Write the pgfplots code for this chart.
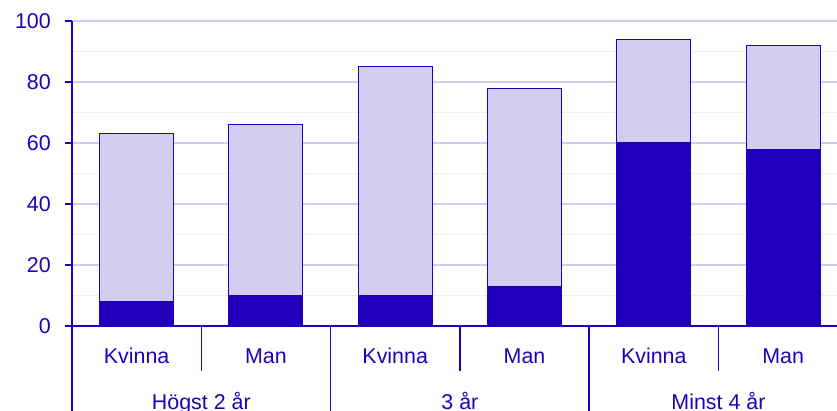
\documentclass[border=0pt]{standalone}
\usepackage{pgfplots}
\pgfplotsset{compat=1.18}
\usepackage{fontspec}
\setmainfont{Liberation Sans}
\definecolor{dk}{RGB}{34,0,187}
\definecolor{lt}{RGB}{210,206,240}
\definecolor{mg}{RGB}{238,238,243}
\begin{document}
\begin{tikzpicture}
\useasboundingbox (0,0) rectangle (837bp,411bp);
\begin{axis}[
  at={(72bp,85bp)}, anchor=south west,
  scale only axis, width=765bp, height=305bp,
  xmin=-0.5, xmax=5.417, ymin=0, ymax=100,
  axis x line=bottom, axis y line=left,
  axis line style={dk, line width=1.5pt, -},
  xtick=\empty,
  ytick={0,20,40,60,80,100},
  minor ytick={10,30,50,70,90},
  ymajorgrids, yminorgrids,
  major grid style={lt, line width=1.2pt},
  minor grid style={mg, line width=1.2pt},
  tick align=outside, major tick length=7bp, minor tick length=0pt,
  tick style={dk, line width=1.5pt},
  ytick style={dk, line width=1.5pt},
  /pgf/number format/assume math mode=true,
  yticklabel style={font=\fontsize{21.5}{25}\selectfont, text=dk, inner sep=0pt, xshift=-14bp},
  ybar stacked, bar width=74bp,
  clip=false,
]
\addplot[fill=dk, draw=dk, line width=1pt] coordinates {(0,8) (1,10) (2,10) (3,13) (4,60) (5,58)};
\addplot[fill=lt, draw=dk, line width=1pt] coordinates {(0,55) (1,56) (2,75) (3,65) (4,34) (5,34)};
\draw[dk, line width=1.5pt] (axis cs:-0.5,0) -- ([yshift=-90bp]axis cs:-0.5,0);
\draw[dk, line width=1.5pt] (axis cs:1.5,0) -- ([yshift=-90bp]axis cs:1.5,0);
\draw[dk, line width=1.5pt] (axis cs:3.5,0) -- ([yshift=-90bp]axis cs:3.5,0);
\draw[dk, line width=1.5pt] (axis cs:0.5,0) -- ([yshift=-45bp]axis cs:0.5,0);
\draw[dk, line width=1.5pt] (axis cs:2.5,0) -- ([yshift=-45bp]axis cs:2.5,0);
\draw[dk, line width=1.5pt] (axis cs:4.5,0) -- ([yshift=-45bp]axis cs:4.5,0);
\tikzset{lbl/.style={text=dk, font=\fontsize{21.5}{25}\selectfont, anchor=base}}
\node[lbl] at ([yshift=-37bp]axis cs:0,0) {Kvinna};
\node[lbl] at ([yshift=-37bp]axis cs:1,0) {Man};
\node[lbl] at ([yshift=-37bp]axis cs:2,0) {Kvinna};
\node[lbl] at ([yshift=-37bp]axis cs:3,0) {Man};
\node[lbl] at ([yshift=-37bp]axis cs:4,0) {Kvinna};
\node[lbl] at ([yshift=-37bp]axis cs:5,0) {Man};
\node[lbl] at ([yshift=-83bp]axis cs:0.5,0) {Högst 2 år};
\node[lbl] at ([yshift=-83bp]axis cs:2.5,0) {3 år};
\node[lbl] at ([yshift=-83bp]axis cs:4.5,0) {Minst 4 år};
\end{axis}
\end{tikzpicture}
\end{document}
